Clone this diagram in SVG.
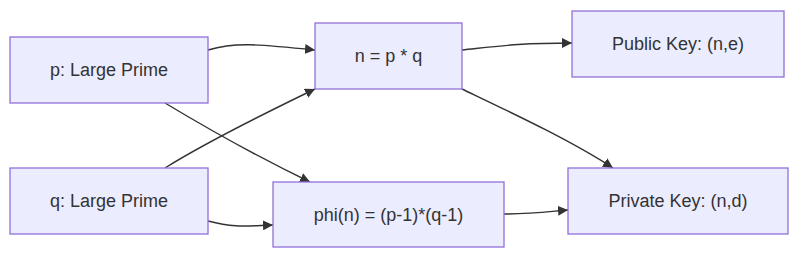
<svg xmlns="http://www.w3.org/2000/svg" width="800" height="259" viewBox="0 0 800 259">
<style>
.node rect{fill:#ECECFF;stroke:#9370DB;stroke-width:1.3}
.node text{font-family:"Liberation Sans",Arial,sans-serif;font-size:18px;fill:#333;text-anchor:middle}
.edge{fill:none;stroke:#333;stroke-width:1.4;marker-end:url(#arrow)}
</style>
<defs>
<marker id="arrow" viewBox="0 0 10 10" refX="10" refY="5" markerUnits="userSpaceOnUse" markerWidth="10" markerHeight="10" orient="auto">
<path d="M0,0 L10,5 L0,10 z" fill="#333"/>
</marker>
</defs>
<rect width="800" height="259" fill="#fff"/>
<g id="connectors">
<path class="edge" d="M208,50 C235,42 255,44 315,50"/>
<path class="edge" d="M165,103 C210,130 260,158 310,182"/>
<path class="edge" d="M165,168 C205,143 255,118 315,89"/>
<path class="edge" d="M208,221 C235,228 245,226 273,225"/>
<path class="edge" d="M462,50 C500,46 520,43 572,43"/>
<path class="edge" d="M462,89 C510,112 570,140 613,168"/>
<path class="edge" d="M504,214 C530,214 545,212 568,210"/>
</g>
<g id="p" class="node"><rect x="10" y="37" width="198" height="66"/><text x="109" y="76">p: Large Prime</text></g>
<g id="q" class="node"><rect x="10" y="168" width="198" height="66"/><text x="109" y="207">q: Large Prime</text></g>
<g id="n" class="node"><rect x="315" y="23" width="147" height="66"/><text x="388.5" y="62">n = p * q</text></g>
<g id="phi" class="node"><rect x="273" y="182" width="231" height="65"/><text x="388.5" y="221">phi(n) = (p-1)*(q-1)</text></g>
<g id="public" class="node"><rect x="572" y="11" width="212" height="66"/><text x="678" y="50">Public Key: (n,e)</text></g>
<g id="private" class="node"><rect x="568" y="168" width="220" height="66"/><text x="678" y="207">Private Key: (n,d)</text></g>
</svg>
